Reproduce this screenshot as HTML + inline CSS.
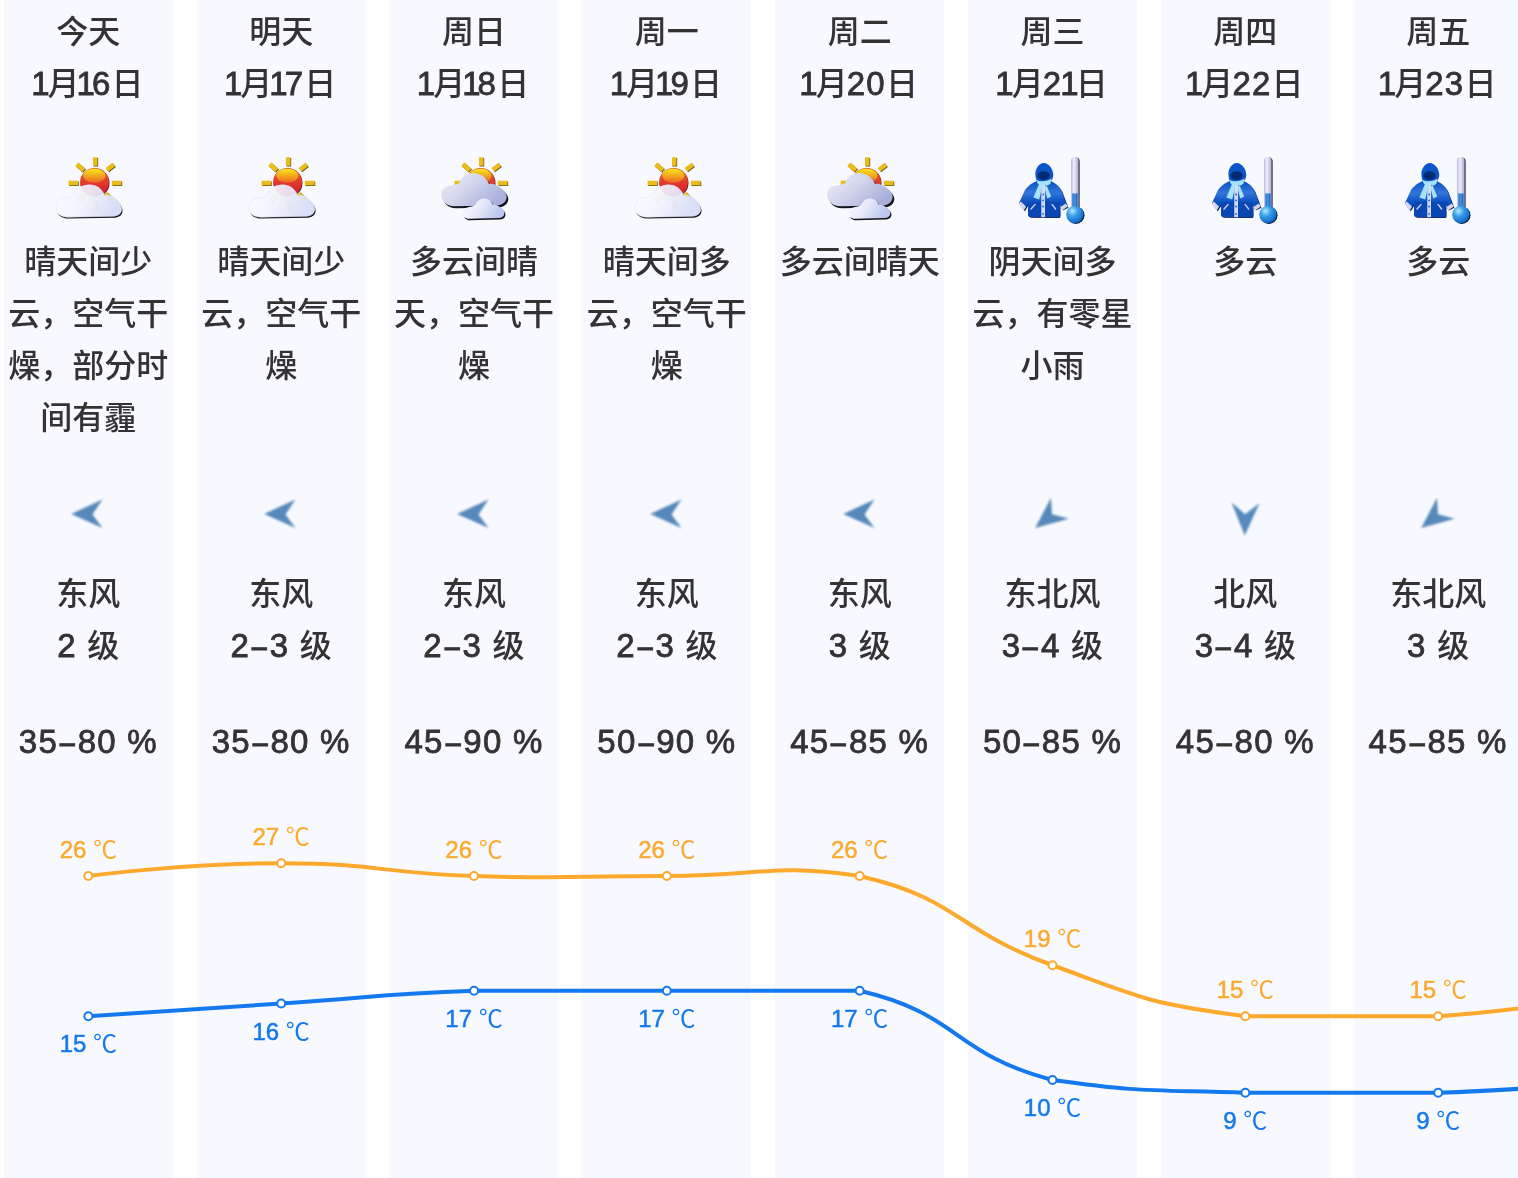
<!DOCTYPE html>
<html lang="zh-CN"><head><meta charset="utf-8"><title>天气预报</title>
<style>
html,body{margin:0;padding:0;background:#fff;}
body{width:1518px;height:1178px;overflow:hidden;position:relative;font-family:"Liberation Sans","Noto Sans CJK SC",sans-serif;color:#333;}
.col{position:absolute;top:0;height:1178px;width:168.70px;background:#f7f9fe;}
.t{position:absolute;left:-20px;right:-20px;text-align:center;font-size:32px;line-height:52px;white-space:nowrap;font-weight:500;}
.t span{display:block;height:52px;}
.n{font-weight:normal;font-size:33px;letter-spacing:1.25px;-webkit-text-stroke:0.8px #333;}
.o{font-style:normal;letter-spacing:-3px;margin-left:-2px;}
.d{display:inline-block;text-decoration:none;transform:scaleX(0.82);}
.n:first-child .o{letter-spacing:-2px;}
.n+.n,.n~.n{margin-left:-1px;}
.ic{position:absolute;left:50%;margin-left:-40px;top:150px;width:80px;height:76px;}
.ar{filter:blur(0.8px);position:absolute;left:50%;margin-left:-40px;top:480px;width:80px;height:76px;}
#chart{position:absolute;left:0;top:0;}
#chart text{font-family:"Liberation Sans","Noto Sans CJK SC",sans-serif;font-size:24px;text-anchor:middle;}
</style></head><body>
<svg width="0" height="0" style="position:absolute">
<defs>
<linearGradient id="g-sun" x1="0" y1="0" x2="0" y2="1">
<stop offset="0" stop-color="#ea6a26"/><stop offset="0.5" stop-color="#e03a2c"/><stop offset="1" stop-color="#d2162c"/>
</linearGradient>
<linearGradient id="g-sunhi" x1="0" y1="0" x2="0" y2="1">
<stop offset="0" stop-color="#f5ea1c"/><stop offset="0.55" stop-color="#f2a01e"/><stop offset="1" stop-color="#ea6424"/>
</linearGradient>
<linearGradient id="g-cl1" x1="0" y1="0" x2="1" y2="0.25">
<stop offset="0" stop-color="#ffffff" stop-opacity="0.93"/><stop offset="0.45" stop-color="#f1f3fc" stop-opacity="0.9"/><stop offset="1" stop-color="#c2cbf1" stop-opacity="0.95"/>
</linearGradient>
<linearGradient id="g-cl2" x1="0" y1="0" x2="1" y2="0.6">
<stop offset="0" stop-color="#eff1fa"/><stop offset="0.5" stop-color="#d2d5ec"/><stop offset="1" stop-color="#a8afdb"/>
</linearGradient>
<linearGradient id="g-cl3" x1="0" y1="0" x2="1" y2="0.3">
<stop offset="0" stop-color="#fbfcff"/><stop offset="0.5" stop-color="#e6eaf9"/><stop offset="1" stop-color="#bcc7ef"/>
</linearGradient>
<linearGradient id="g-coat" x1="0" y1="0" x2="0" y2="1">
<stop offset="0" stop-color="#0a50c2"/><stop offset="0.33" stop-color="#3276dc"/><stop offset="0.58" stop-color="#0b52c0"/><stop offset="1" stop-color="#073fa0"/>
</linearGradient>
<linearGradient id="g-tube" x1="0" y1="0" x2="1" y2="0">
<stop offset="0" stop-color="#b9b9e0"/><stop offset="0.4" stop-color="#f0f0fb"/><stop offset="1" stop-color="#a9a9d6"/>
</linearGradient>
<linearGradient id="g-liq" x1="0" y1="0" x2="1" y2="0">
<stop offset="0" stop-color="#1b6fd2"/><stop offset="0.5" stop-color="#4a97e6"/><stop offset="1" stop-color="#0d58b8"/>
</linearGradient>
<radialGradient id="g-bulb" cx="0.36" cy="0.3" r="0.75">
<stop offset="0" stop-color="#b8e8ff"/><stop offset="0.4" stop-color="#3a9fe8"/><stop offset="0.85" stop-color="#1670d0"/><stop offset="1" stop-color="#0a4fb0"/>
</radialGradient>

<g id="sunrays" fill="none" stroke-width="4.5">
<g stroke="#6b5410" transform="translate(0.7 0.7)"><path d="M47.2 7.2V15.8M28.7 14.2L35.8 20.3M65.8 14.5L59 19.7M20.6 33.1H30M63.9 33.1H73.5M57.5 43.5L63.5 49.5M35.5 44L29 51M47.2 50V59.5"/></g>
<g stroke="#ecbc1c"><path d="M47.2 7.2V15.8M28.7 14.2L35.8 20.3M65.8 14.5L59 19.7M20.6 33.1H30M63.9 33.1H73.5M57.5 43.5L63.5 49.5M35.5 44L29 51M47.2 50V59.5"/></g>
</g>
<g id="sunball">
<circle cx="47.1" cy="32.9" r="14.4" fill="#5a1a14"/>
<circle cx="46.5" cy="32.3" r="14.4" fill="url(#g-sun)"/>
<ellipse cx="46.3" cy="25.8" rx="11.2" ry="7" fill="url(#g-sunhi)"/>
</g>

<g id="i-sc">
<use href="#sunrays"/><use href="#sunball"/>
<path d="M8.1 58 C8.1 52 11 48.6 16 47.8 C19 47.3 22.5 47.6 25.2 45.8 C27 40 33 34.8 41.5 34.8 C49 34.8 54.3 39.5 56.7 45.4 C62 44.2 67 47.5 70 51.5 C73 54.5 74.2 58 73.4 61 C72.5 64.5 69 66 65 66.3 L20 67.2 C13 67.2 8.1 64 8.1 58Z" transform="translate(0.9 1.4)" fill="#16161e"/>
<path d="M8.1 58 C8.1 52 11 48.6 16 47.8 C19 47.3 22.5 47.6 25.2 45.8 C27 40 33 34.8 41.5 34.8 C49 34.8 54.3 39.5 56.7 45.4 C62 44.2 67 47.5 70 51.5 C73 54.5 74.2 58 73.4 61 C72.5 64.5 69 66 65 66.3 L20 67.2 C13 67.2 8.1 64 8.1 58Z" fill="#f7f8fe"/>
<g opacity="0.1"><use href="#sunrays"/></g>
<path d="M33.6 38.2 C36 35.8 39 34.8 41.5 34.8 C48 34.8 52.5 38.3 55.2 42.6 C52.5 45.3 49.5 46.6 46.5 46.7 C40 46.7 35.3 43 33.6 38.2Z" fill="#e8a0b8" opacity="0.45"/>
<path d="M8.1 58 C8.1 52 11 48.6 16 47.8 C19 47.3 22.5 47.6 25.2 45.8 C27 40 33 34.8 41.5 34.8 C49 34.8 54.3 39.5 56.7 45.4 C62 44.2 67 47.5 70 51.5 C73 54.5 74.2 58 73.4 61 C72.5 64.5 69 66 65 66.3 L20 67.2 C13 67.2 8.1 64 8.1 58Z" fill="url(#g-cl1)" fill-opacity="0.6" stroke="#d9def3" stroke-width="0.5" stroke-opacity="0.8"/>
</g>

<g id="i-cs">
<use href="#sunrays"/><use href="#sunball"/>
<path d="M7.1 44 C7.3 40 9.5 37.3 13 36.2 C17 34.9 22 35.2 25.6 33 C26.5 27.5 32 22.9 38.7 22.9 C45.5 22.9 51 26.5 53.6 31 C54.3 32.3 54.6 33.2 55 33.9 C60 33.3 65 36 68.4 39.4 C71.2 42 72.8 44.5 72.6 47.5 C72.3 52 68 55 63 55.6 L20 56.2 C12.5 56.2 7 51 7.1 44Z" transform="translate(1.7 2)" fill="#14141c"/>
<path d="M7.1 44 C7.3 40 9.5 37.3 13 36.2 C17 34.9 22 35.2 25.6 33 C26.5 27.5 32 22.9 38.7 22.9 C45.5 22.9 51 26.5 53.6 31 C54.3 32.3 54.6 33.2 55 33.9 C60 33.3 65 36 68.4 39.4 C71.2 42 72.8 44.5 72.6 47.5 C72.3 52 68 55 63 55.6 L20 56.2 C12.5 56.2 7 51 7.1 44Z" fill="url(#g-cl2)"/>
<path d="M28.7 62.8 C29 60 31 58 34 57.3 C37 56.6 39.5 56.8 41.6 54.6 C42.8 51 46 48.4 50.3 48.4 C54.5 48.4 57.5 51 58.6 54.4 C62 54.4 65 56 67.5 58.3 C69.8 60.2 70.6 62 70.3 64 C69.8 66.8 67.5 68 64.5 68.1 L35 68.8 C31 68.8 28.5 66.5 28.7 62.8Z" transform="translate(1.1 1.4)" fill="#14141c"/>
<path d="M28.7 62.8 C29 60 31 58 34 57.3 C37 56.6 39.5 56.8 41.6 54.6 C42.8 51 46 48.4 50.3 48.4 C54.5 48.4 57.5 51 58.6 54.4 C62 54.4 65 56 67.5 58.3 C69.8 60.2 70.6 62 70.3 64 C69.8 66.8 67.5 68 64.5 68.1 L35 68.8 C31 68.8 28.5 66.5 28.7 62.8Z" fill="url(#g-cl3)"/>
</g>

<g id="i-cold">
<!-- thermometer -->
<rect x="60" y="7.6" width="7.6" height="52" rx="3.8" fill="#1a1a30"/>
<rect x="59" y="7" width="7.6" height="52" rx="3.8" fill="url(#g-tube)"/>
<rect x="60.3" y="43.4" width="5.2" height="16" fill="url(#g-liq)"/>
<circle cx="63.8" cy="65.2" r="8.7" fill="#10182c"/>
<circle cx="62.9" cy="64.5" r="8.7" fill="url(#g-bulb)"/>
<!-- coat -->
<path d="M25 31 C20 33 15 36.5 12.5 41 L6.8 53.5 L12 60.5 L16.4 53.5 L16.1 64.5 C16.1 66 17 66.8 18.5 66.9 L45.5 67.3 C47 67.3 47.8 66.5 47.8 65 L47.6 53.5 L50 59.6 L55.6 57 L49.5 41 C47 36.5 43.5 33 38.5 31Z" transform="translate(0.8 0.8)" fill="#0a1a44"/>
<path d="M25 31 C20 33 15 36.5 12.5 41 L6.8 53.5 L12 60.5 L16.4 53.5 L16.1 64.5 C16.1 66 17 66.8 18.5 66.9 L45.5 67.3 C47 67.3 47.8 66.5 47.8 65 L47.6 53.5 L50 59.6 L55.6 57 L49.5 41 C47 36.5 43.5 33 38.5 31Z" fill="url(#g-coat)"/>
<path d="M16.2 52 L47.6 52 L47.8 65 C47.8 66.5 47 67.3 45.5 67.3 L18.5 66.9 C17 66.8 16.1 66 16.1 64.5Z" fill="#0948b4"/>
<path d="M6.4 54 L8.8 51.6 L14 56.4 L11.8 60.6Z" fill="#d6d6f0"/>
<path d="M48.6 57 L53.8 53.6 L55.8 56.6 L50.4 60.2Z" fill="#d6d6f0"/>
<path d="M23.5 25.5 C22.5 20 26.5 13 31.8 12.9 C37 13 41.5 19.5 41.3 25.5 C41 28 39.8 30 38.5 31.5 L25 31.5 C24 29.5 23.7 27.5 23.5 25.5Z" fill="#0a56c8"/>
<ellipse cx="31.6" cy="25.6" rx="6.2" ry="4.3" fill="#002a72"/>
<rect x="29.3" y="35" width="3.7" height="32.2" fill="#d8daf3"/>
<circle cx="31.15" cy="44.5" r="0.95" fill="#1a6cd6"/><circle cx="31.15" cy="50.4" r="0.95" fill="#1a6cd6"/><circle cx="31.15" cy="56.5" r="0.95" fill="#1a6cd6"/><circle cx="31.15" cy="63.9" r="0.95" fill="#1a6cd6"/>
<path d="M24.6 29.8 C27 32 36 32 39.2 28.6 L38.6 33.6 C36 36 33.5 36.5 32.2 36.2 L35.2 48.4 L39.2 46.6 L34.6 35.4 L30.6 35 L27.2 49.6 L21.4 47.4 L26.8 34.6 C25.5 33.5 24.8 32 24.6 29.8Z" fill="#a6e2f8"/>
<path d="M19 59 L23.2 54.4 M40 54.4 L43.6 59" stroke="#d4d4f0" stroke-width="1.3" stroke-linecap="round" fill="none"/>
</g>

<path id="a-E" d="M23.2 33.9 L54.5 19.4 L44.5 34.5 L54.5 48Z" fill="#5689ba"/>
<path id="a-N" d="M39.7 55.5 L26.5 22.3 L40 34.2 L54.5 23.2Z" fill="#5689ba"/>
<path id="a-NE" d="M23.2 48.1 L39 17.7 L40 34.2 L56.8 38.7Z" fill="#5689ba"/>
</defs>
</svg>
<div class="col" style="left:4.00px"><div class="t" style="top:6px"><span>今天</span><span><b class="n"><i class="o">1</i></b>月<b class="n"><i class="o">1</i>6</b>日</span></div><svg class="ic" viewBox="0 0 80 76"><use href="#i-sc"/></svg><div class="t" style="top:236px"><span>晴天间少</span><span>云，空气干</span><span>燥，部分时</span><span>间有霾</span></div><svg class="ar" viewBox="0 0 80 76"><use href="#a-E"/></svg><div class="t" style="top:568px"><span>东风</span><span><b class="n">2 </b>级</span></div><div class="t" style="top:716px"><span><b class="n">35<u class="d">–</u>80 %</b></span></div></div>
<div class="col" style="left:196.83px"><div class="t" style="top:6px"><span>明天</span><span><b class="n"><i class="o">1</i></b>月<b class="n"><i class="o">1</i>7</b>日</span></div><svg class="ic" viewBox="0 0 80 76"><use href="#i-sc"/></svg><div class="t" style="top:236px"><span>晴天间少</span><span>云，空气干</span><span>燥</span></div><svg class="ar" viewBox="0 0 80 76"><use href="#a-E"/></svg><div class="t" style="top:568px"><span>东风</span><span><b class="n">2<u class="d">–</u>3 </b>级</span></div><div class="t" style="top:716px"><span><b class="n">35<u class="d">–</u>80 %</b></span></div></div>
<div class="col" style="left:389.66px"><div class="t" style="top:6px"><span>周日</span><span><b class="n"><i class="o">1</i></b>月<b class="n"><i class="o">1</i>8</b>日</span></div><svg class="ic" viewBox="0 0 80 76"><use href="#i-cs"/></svg><div class="t" style="top:236px"><span>多云间晴</span><span>天，空气干</span><span>燥</span></div><svg class="ar" viewBox="0 0 80 76"><use href="#a-E"/></svg><div class="t" style="top:568px"><span>东风</span><span><b class="n">2<u class="d">–</u>3 </b>级</span></div><div class="t" style="top:716px"><span><b class="n">45<u class="d">–</u>90 %</b></span></div></div>
<div class="col" style="left:582.49px"><div class="t" style="top:6px"><span>周一</span><span><b class="n"><i class="o">1</i></b>月<b class="n"><i class="o">1</i>9</b>日</span></div><svg class="ic" viewBox="0 0 80 76"><use href="#i-sc"/></svg><div class="t" style="top:236px"><span>晴天间多</span><span>云，空气干</span><span>燥</span></div><svg class="ar" viewBox="0 0 80 76"><use href="#a-E"/></svg><div class="t" style="top:568px"><span>东风</span><span><b class="n">2<u class="d">–</u>3 </b>级</span></div><div class="t" style="top:716px"><span><b class="n">50<u class="d">–</u>90 %</b></span></div></div>
<div class="col" style="left:775.32px"><div class="t" style="top:6px"><span>周二</span><span><b class="n"><i class="o">1</i></b>月<b class="n">20</b>日</span></div><svg class="ic" viewBox="0 0 80 76"><use href="#i-cs"/></svg><div class="t" style="top:236px"><span>多云间晴天</span></div><svg class="ar" viewBox="0 0 80 76"><use href="#a-E"/></svg><div class="t" style="top:568px"><span>东风</span><span><b class="n">3 </b>级</span></div><div class="t" style="top:716px"><span><b class="n">45<u class="d">–</u>85 %</b></span></div></div>
<div class="col" style="left:968.15px"><div class="t" style="top:6px"><span>周三</span><span><b class="n"><i class="o">1</i></b>月<b class="n">2<i class="o">1</i></b>日</span></div><svg class="ic" viewBox="0 0 80 76"><use href="#i-cold"/></svg><div class="t" style="top:236px"><span>阴天间多</span><span>云，有零星</span><span>小雨</span></div><svg class="ar" viewBox="0 0 80 76"><use href="#a-NE"/></svg><div class="t" style="top:568px"><span>东北风</span><span><b class="n">3<u class="d">–</u>4 </b>级</span></div><div class="t" style="top:716px"><span><b class="n">50<u class="d">–</u>85 %</b></span></div></div>
<div class="col" style="left:1160.98px"><div class="t" style="top:6px"><span>周四</span><span><b class="n"><i class="o">1</i></b>月<b class="n">22</b>日</span></div><svg class="ic" viewBox="0 0 80 76"><use href="#i-cold"/></svg><div class="t" style="top:236px"><span>多云</span></div><svg class="ar" viewBox="0 0 80 76"><use href="#a-N"/></svg><div class="t" style="top:568px"><span>北风</span><span><b class="n">3<u class="d">–</u>4 </b>级</span></div><div class="t" style="top:716px"><span><b class="n">45<u class="d">–</u>80 %</b></span></div></div>
<div class="col" style="left:1353.81px"><div class="t" style="top:6px"><span>周五</span><span><b class="n"><i class="o">1</i></b>月<b class="n">23</b>日</span></div><svg class="ic" viewBox="0 0 80 76"><use href="#i-cold"/></svg><div class="t" style="top:236px"><span>多云</span></div><svg class="ar" viewBox="0 0 80 76"><use href="#a-NE"/></svg><div class="t" style="top:568px"><span>东北风</span><span><b class="n">3 </b>级</span></div><div class="t" style="top:716px"><span><b class="n">45<u class="d">–</u>85 %</b></span></div></div>
<svg id="chart" width="1518" height="1178" viewBox="0 0 1518 1178"><path d="M88.35 876.00 C88.35 876.00 184.77 863.25 281.18 863.25 C377.59 863.25 377.49 872.81 474.01 876.00 C570.32 879.18 570.42 876.00 666.84 876.00 C763.26 876.00 767.93 863.25 859.67 876.00 C960.76 899.39 953.04 929.08 1052.50 965.25 C1145.87 999.20 1147.29 1003.28 1245.33 1016.25 C1340.12 1016.25 1342.16 1016.25 1438.16 1016.25 C1534.99 1009.85 1630.99 990.75 1630.99 990.75" fill="none" stroke="#fca92e" stroke-width="4" stroke-linejoin="round"/><circle cx="88.35" cy="876.00" r="4" fill="#fff" stroke="#fca92e" stroke-width="2"/><text x="88.35" y="858.00" fill="#fca92e" stroke="#fca92e" stroke-width="0.5">26 <tspan stroke="none">℃</tspan></text><circle cx="281.18" cy="863.25" r="4" fill="#fff" stroke="#fca92e" stroke-width="2"/><text x="281.18" y="845.25" fill="#fca92e" stroke="#fca92e" stroke-width="0.5">27 <tspan stroke="none">℃</tspan></text><circle cx="474.01" cy="876.00" r="4" fill="#fff" stroke="#fca92e" stroke-width="2"/><text x="474.01" y="858.00" fill="#fca92e" stroke="#fca92e" stroke-width="0.5">26 <tspan stroke="none">℃</tspan></text><circle cx="666.84" cy="876.00" r="4" fill="#fff" stroke="#fca92e" stroke-width="2"/><text x="666.84" y="858.00" fill="#fca92e" stroke="#fca92e" stroke-width="0.5">26 <tspan stroke="none">℃</tspan></text><circle cx="859.67" cy="876.00" r="4" fill="#fff" stroke="#fca92e" stroke-width="2"/><text x="859.67" y="858.00" fill="#fca92e" stroke="#fca92e" stroke-width="0.5">26 <tspan stroke="none">℃</tspan></text><circle cx="1052.50" cy="965.25" r="4" fill="#fff" stroke="#fca92e" stroke-width="2"/><text x="1052.50" y="947.25" fill="#fca92e" stroke="#fca92e" stroke-width="0.5">19 <tspan stroke="none">℃</tspan></text><circle cx="1245.33" cy="1016.25" r="4" fill="#fff" stroke="#fca92e" stroke-width="2"/><text x="1245.33" y="998.25" fill="#fca92e" stroke="#fca92e" stroke-width="0.5">15 <tspan stroke="none">℃</tspan></text><circle cx="1438.16" cy="1016.25" r="4" fill="#fff" stroke="#fca92e" stroke-width="2"/><text x="1438.16" y="998.25" fill="#fca92e" stroke="#fca92e" stroke-width="0.5">15 <tspan stroke="none">℃</tspan></text><path d="M88.35 1016.25 C88.35 1016.25 184.77 1009.88 281.18 1003.50 C377.59 997.12 377.49 993.94 474.01 990.75 C570.32 990.75 570.42 990.75 666.84 990.75 C763.26 990.75 767.93 990.75 859.67 990.75 C960.76 1014.14 951.51 1053.29 1052.50 1080.00 C1144.34 1092.75 1148.81 1089.56 1245.33 1092.75 C1341.64 1092.75 1341.85 1092.75 1438.16 1092.75 C1534.68 1089.56 1630.99 1080.00 1630.99 1080.00" fill="none" stroke="#1479ee" stroke-width="4" stroke-linejoin="round"/><circle cx="88.35" cy="1016.25" r="4" fill="#fff" stroke="#1479ee" stroke-width="2"/><text x="88.35" y="1052.25" fill="#1479ee" stroke="#1479ee" stroke-width="0.5">15 <tspan stroke="none">℃</tspan></text><circle cx="281.18" cy="1003.50" r="4" fill="#fff" stroke="#1479ee" stroke-width="2"/><text x="281.18" y="1039.50" fill="#1479ee" stroke="#1479ee" stroke-width="0.5">16 <tspan stroke="none">℃</tspan></text><circle cx="474.01" cy="990.75" r="4" fill="#fff" stroke="#1479ee" stroke-width="2"/><text x="474.01" y="1026.75" fill="#1479ee" stroke="#1479ee" stroke-width="0.5">17 <tspan stroke="none">℃</tspan></text><circle cx="666.84" cy="990.75" r="4" fill="#fff" stroke="#1479ee" stroke-width="2"/><text x="666.84" y="1026.75" fill="#1479ee" stroke="#1479ee" stroke-width="0.5">17 <tspan stroke="none">℃</tspan></text><circle cx="859.67" cy="990.75" r="4" fill="#fff" stroke="#1479ee" stroke-width="2"/><text x="859.67" y="1026.75" fill="#1479ee" stroke="#1479ee" stroke-width="0.5">17 <tspan stroke="none">℃</tspan></text><circle cx="1052.50" cy="1080.00" r="4" fill="#fff" stroke="#1479ee" stroke-width="2"/><text x="1052.50" y="1116.00" fill="#1479ee" stroke="#1479ee" stroke-width="0.5">10 <tspan stroke="none">℃</tspan></text><circle cx="1245.33" cy="1092.75" r="4" fill="#fff" stroke="#1479ee" stroke-width="2"/><text x="1245.33" y="1128.75" fill="#1479ee" stroke="#1479ee" stroke-width="0.5">9 <tspan stroke="none">℃</tspan></text><circle cx="1438.16" cy="1092.75" r="4" fill="#fff" stroke="#1479ee" stroke-width="2"/><text x="1438.16" y="1128.75" fill="#1479ee" stroke="#1479ee" stroke-width="0.5">9 <tspan stroke="none">℃</tspan></text></svg>
</body></html>
